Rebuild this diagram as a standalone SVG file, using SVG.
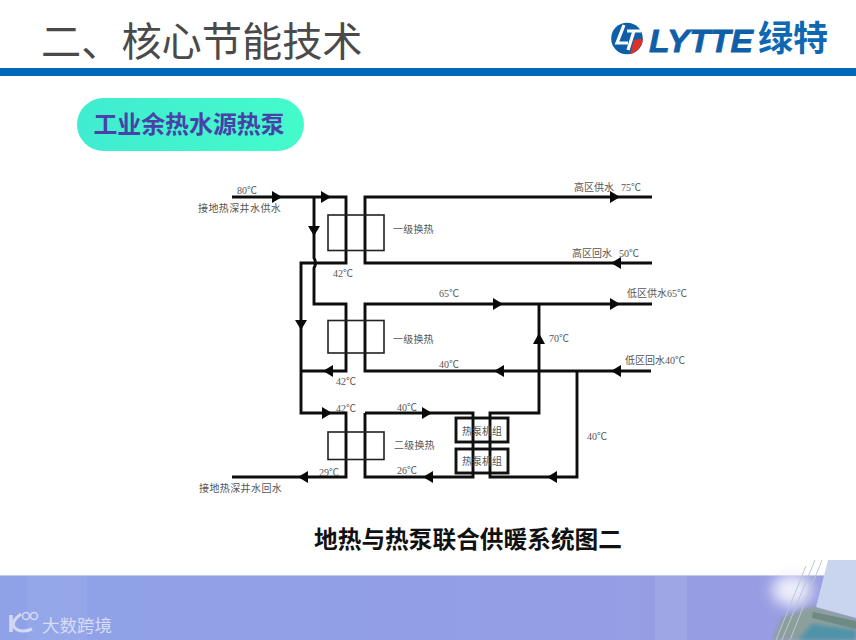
<svg xmlns="http://www.w3.org/2000/svg" width="856" height="640" viewBox="0 0 856 640">
<style>
.cjk{font-family:"Noto Sans CJK SC","Liberation Sans",sans-serif}
.lb{font-family:"Liberation Serif","Noto Sans CJK SC",serif;font-size:10px;fill:#555;text-anchor:start}
.pipe{fill:none;stroke:#0d0d0d;stroke-width:2.9;stroke-linejoin:miter}
.hx{fill:none;stroke:#222;stroke-width:1.6}
.hp{fill:none;stroke:#111;stroke-width:2.9}
.ah{fill:#0a0a0a}
</style>
<defs>
<linearGradient id="band" x1="0" x2="1" y1="0" y2="0">
<stop offset="0" stop-color="#8fa2e8"/><stop offset=".5" stop-color="#929fe6"/><stop offset="1" stop-color="#9a9ce2"/>
</linearGradient>
<linearGradient id="pill" x1="0" x2="1" y1="0" y2="0">
<stop offset="0" stop-color="#40ecd0"/><stop offset="1" stop-color="#44fbcb"/>
</linearGradient>
<filter id="soft" x="-30%" y="-30%" width="160%" height="160%"><feGaussianBlur stdDeviation="2"/></filter>
<filter id="soft2" x="-60%" y="-60%" width="220%" height="220%"><feGaussianBlur stdDeviation="7"/></filter>
<path id="r" d="M-5-6L5 0L-5 6Z"/>
<path id="l" d="M5-6L-5 0L5 6Z"/>
<path id="d" d="M-6-5L6-5L0 5Z"/>
<path id="u" d="M-6 5L6 5L0-6Z"/>
</defs>
<rect width="856" height="640" fill="#fff"/>

<g id="header">
<text class="cjk" x="41" y="56" font-size="40.200" font-weight="400" fill="#4a4a4a">二、核心节能技术</text>
<rect x="0" y="68" width="856" height="8" fill="#0369b6"/>
</g>

<g id="logo">
<circle cx="627" cy="38.500" r="15.800" fill="#0f5fa8"/>
<path d="M642.800 38.500A15.800 15.800 0 0 1 630 54L634 40Z" fill="#d9322a"/>
<path d="M624 25L617 43H628M627 31H641M634 31L628 50" fill="none" stroke="#fff" stroke-width="3.200"/>
<text x="649" y="52" font-family="Liberation Sans,sans-serif" font-size="32" font-weight="700" font-style="italic" fill="#0f5fa8" textLength="104" lengthAdjust="spacingAndGlyphs" stroke="#0f5fa8" stroke-width=".8">LYTTE</text>
<text class="cjk" x="758" y="51" font-size="35" font-weight="700" fill="#0f68b2">绿特</text>
</g>

<g id="subtitle">
<rect x="77" y="98" width="227" height="53" rx="26.500" fill="url(#pill)"/>
<text class="cjk" x="189" y="132.500" font-size="23.900" font-weight="700" fill="#4a41a8" text-anchor="middle">工业余热水源热泵</text>
</g>

<g id="connectors">
<path class="pipe" d="M232 197H346V263H301V413H346V477H232"/>
<path class="pipe" d="M314 197V258Q317 263 314 268V304H346V371H301"/>
<path class="pipe" d="M652 197H365V263H652"/>
<path class="pipe" d="M652 304H365V371H651"/>
<path class="pipe" d="M539 304V413H490V477H577V371"/>
<path class="pipe" d="M365 413H473V477H365V413"/>
<use class="ah" href="#r" x="277" y="197"/>
<use class="ah" href="#r" x="326" y="197"/>
<use class="ah" href="#d" x="314" y="231"/>
<use class="ah" href="#d" x="301" y="325"/>
<use class="ah" href="#l" x="328" y="371"/>
<use class="ah" href="#r" x="327" y="413"/>
<use class="ah" href="#l" x="303" y="477"/>
<use class="ah" href="#r" x="615" y="197"/>
<use class="ah" href="#l" x="616" y="263"/>
<use class="ah" href="#r" x="498" y="304"/>
<use class="ah" href="#r" x="615" y="304"/>
<use class="ah" href="#l" x="499" y="371"/>
<use class="ah" href="#l" x="616" y="371"/>
<use class="ah" href="#u" x="539" y="339"/>
<use class="ah" href="#r" x="427" y="413"/>
<use class="ah" href="#l" x="428" y="477"/>
<use class="ah" href="#l" x="552" y="477"/>
</g>

<g id="hx1"><rect class="hx" x="328" y="215" width="56" height="35.500"/><text class="lb" x="393" y="233" letter-spacing="0.200">一级换热</text></g>
<g id="hx2"><rect class="hx" x="328" y="320.500" width="56" height="32.500"/><text class="lb" x="393" y="343" letter-spacing="0.200">一级换热</text></g>
<g id="hx3"><rect class="hx" x="328" y="432" width="56" height="27.500"/><text class="lb" x="394" y="449" letter-spacing="0.200">二级换热</text></g>
<g id="hp1"><rect class="hp" x="456" y="418" width="52" height="24"/><text class="lb" x="462" y="435">热泵机组</text></g>
<g id="hp2"><rect class="hp" x="456" y="449" width="52" height="24"/><text class="lb" x="462" y="465">热泵机组</text></g>

<g id="labels">
<text class="lb" x="237" y="194">80℃</text>
<text class="lb" x="198" y="212" letter-spacing=".4">接地热深井水供水</text>
<text class="lb" x="333" y="277">42℃</text>
<text class="lb" x="336" y="385">42℃</text>
<text class="lb" x="336" y="412">42℃</text>
<text class="lb" x="397" y="411">40℃</text>
<text class="lb" x="319" y="476">29℃</text>
<text class="lb" x="397" y="474">26℃</text>
<text class="lb" x="199" y="492" letter-spacing=".4">接地热深井水回水</text>
<text class="lb" x="574" y="191">高区供水<tspan x="621">75℃</tspan></text>
<text class="lb" x="572" y="257">高区回水<tspan x="619">50℃</tspan></text>
<text class="lb" x="439" y="297">65℃</text>
<text class="lb" x="627" y="297">低区供水65℃</text>
<text class="lb" x="549" y="342">70℃</text>
<text class="lb" x="439" y="368">40℃</text>
<text class="lb" x="625" y="364">低区回水40℃</text>
<text class="lb" x="587" y="440">40℃</text>
</g>

<g id="caption">
<text class="cjk" x="468" y="548" font-size="23.700" font-weight="700" fill="#111" text-anchor="middle">地热与热泵联合供暖系统图二</text>
</g>

<g id="footer">
<rect x="0" y="575" width="856" height="65" fill="url(#band)"/>
<rect x="0" y="575" width="856" height="1" fill="#c4c9e8"/>
<rect x="27" y="576" width="60" height="64" fill="#99ace9" opacity=".5"/>
<rect x="655" y="576" width="32" height="64" fill="#a3a9e6" opacity=".7"/>
<ellipse cx="792" cy="590" rx="20" ry="16" fill="#eeeefa" filter="url(#soft2)"/>
<polygon points="772,640 782,618 812,606 856,618 856,640" fill="#8d9f9c" filter="url(#soft)"/>
<polygon points="798,640 812,624 856,630 856,640" fill="#4f93a8" filter="url(#soft)"/>
<polygon points="828,560 856,560 856,618 816,607" fill="#c9d5ee"/>
<polygon points="813,612 856,621 856,629 812,618" fill="#6f8a82"/>
<path d="M782 640L815 560M790 640L822 560M776 640L806 566" stroke="#b8c8d0" stroke-width="1" fill="none"/>
<g fill="none" stroke="#dfe3f7" opacity=".85">
<path d="M11 615V632" stroke-width="3.500"/><path d="M21 614Q11 621 14 627Q20 634 32 629" stroke-width="3"/>
<circle cx="26" cy="616" r="3.500" stroke-width="1.500"/><circle cx="34" cy="616" r="3.500" stroke-width="1.500"/>
</g>
<text class="cjk" x="42" y="632" font-size="17.500" fill="#e4e7f8" fill-opacity=".85">大数跨境</text>
</g>
</svg>
